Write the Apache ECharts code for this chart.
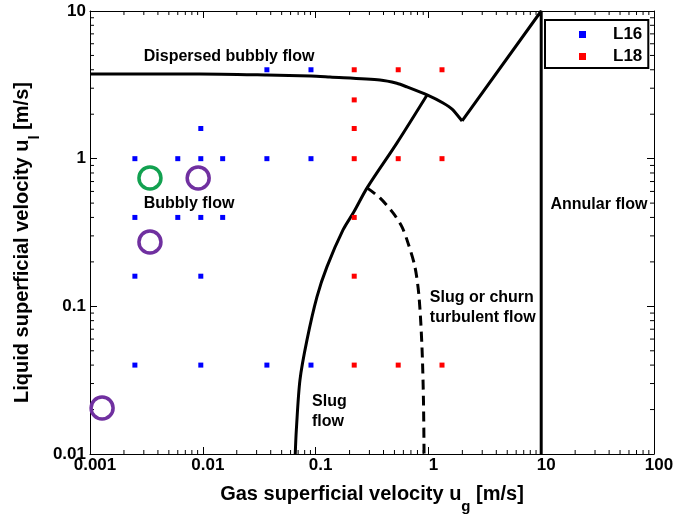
<!DOCTYPE html>
<html>
<head>
<meta charset="utf-8">
<script src="https://cdn.jsdelivr.net/npm/echarts@6/dist/echarts.min.js"></script>
<style>
  html, body { margin: 0; padding: 0; background: #fff; }
  #chart { width: 677px; height: 515px; }
</style>
</head>
<body>
<div id="chart"></div>
<script>
  // tick labels
  const xTickLabels = ['0.001', '0.01', '0.1', '1', '10', '100']
  const yTickLabels = ['0.01', '0.1', '1', '10']

  // measured points [ug, ul]
  const l16 = [
    [0.0025, 1], [0.006, 1], [0.0096, 1], [0.015, 1], [0.037, 1], [0.091, 1],
    [0.037, 4], [0.091, 4], [0.0096, 1.6],
    [0.0025, 0.4], [0.006, 0.4], [0.0096, 0.4], [0.015, 0.4],
    [0.0025, 0.16], [0.0096, 0.16],
    [0.0025, 0.04], [0.0096, 0.04], [0.037, 0.04], [0.091, 0.04]
  ]
  const l18 = [
    [0.22, 4], [0.54, 4], [1.32, 4], [0.22, 2.5], [0.22, 1.6],
    [0.22, 1], [0.54, 1], [1.32, 1], [0.22, 0.4], [0.22, 0.16],
    [0.22, 0.04], [0.54, 0.04], [1.32, 0.04]
  ]
  const greenCircles = [[0.0034, 0.74]]
  const purpleCircles = [[0.0091, 0.74], [0.0034, 0.273], [0.00128, 0.0205]]

  // regime boundaries
  const dispersedBoundary = [
    [0.001, 3.75], [0.0094, 3.75], [0.037, 3.69], [0.091, 3.63], [0.134, 3.57],
    [0.372, 3.41], [0.525, 3.24], [0.646, 3.06], [0.973, 2.7], [1.35, 2.38],
    [1.65, 2.14], [1.99, 1.8]
  ]
  const annularBoundary = [[1.99, 1.8], [10, 10], [10, 0.01]]
  const slugBoundary = [
    [0.066, 0.01], [0.0675, 0.0146], [0.0727, 0.0318], [0.0839, 0.0593],
    [0.1028, 0.116], [0.126, 0.185], [0.175, 0.329], [0.22, 0.44],
    [0.286, 0.634], [0.527, 1.28], [0.973, 2.7]
  ]
  const churnBoundary = [
    [0.286, 0.634], [0.372, 0.542], [0.486, 0.429], [0.583, 0.345], [0.659, 0.269],
    [0.76, 0.185], [0.826, 0.116], [0.877, 0.053], [0.904, 0.0232], [0.915, 0.01]
  ]

  // regime names and where they sit (data coords)
  const regimeNames = ['Dispersed bubbly flow', 'Bubbly flow', 'Annular flow', 'Slug or churn\nturbulent flow', 'Slug\nflow']
  const regimeAnchors = [[0.0171, 4.88], [0.00755, 0.493], [32.5, 0.486], [1.03, 0.0975], [0.093, 0.0193]]
  const regimeAlign = ['center', 'center', 'center', 'left', 'left']

  const xMin = 0.001, xMax = 100, yMin = 0.01, yMax = 10
  const font = 'Liberation Sans, Arial, sans-serif'

  const xMinor = []
  for (let e = -3; e <= 1; e++) for (let m = 2; m <= 9; m++) xMinor.push([m * Math.pow(10, e), 1])
  const yMinor = []
  for (let e = -2; e <= 0; e++) for (let m = 2; m <= 9; m++) yMinor.push([1, m * Math.pow(10, e)])

  const minorLen = 4

  function tickLine(x1, y1, x2, y2) {
    return { type: 'line', shape: { x1, y1, x2, y2 }, style: { stroke: '#000', lineWidth: 1 } }
  }

  const chart = echarts.init(document.getElementById('chart'))

  const axisCommon = {
    type: 'log',
    logBase: 10,
    axisLine: { show: true, onZero: false, lineStyle: { color: '#000', width: 1 } },
    axisTick: { show: true, inside: true, length: 7, lineStyle: { color: '#000', width: 1 } },
    splitLine: { show: false },
    minorTick: { show: false }
  }

  const titleRich = {
    t: { fontSize: 20, fontWeight: 'bold', color: '#000', fontFamily: font, verticalAlign: 'top', lineHeight: 22 },
    s: { fontSize: 15, fontWeight: 'bold', color: '#000', fontFamily: font, verticalAlign: 'bottom', padding: [15, 0, 0, 0] }
  }

  const curveStyle = { color: '#000', width: 3 }

  chart.setOption({
    animation: false,
    textStyle: { fontFamily: font },
    grid: { left: 90, right: 23, top: 11, bottom: 61, containLabel: false, outerBoundsMode: 'none' },
    legend: {
      data: ['L16', 'L18'],
      orient: 'vertical',
      left: 545,
      top: 20,
      padding: [6, 6, 3, 34],
      itemGap: 5,
      itemWidth: 7,
      itemHeight: 7,
      icon: 'rect',
      borderColor: '#000',
      borderWidth: 2,
      backgroundColor: '#fff',
      textStyle: { fontSize: 17, fontWeight: 'bold', color: '#000', padding: [0, 0, 0, 22], fontFamily: font }
    },
    xAxis: [
      Object.assign({}, axisCommon, {
        position: 'bottom',
        min: xMin,
        max: xMax,
        name: '{t|Gas superficial velocity u}{s|g}{t| [m/s]}',
        nameLocation: 'middle',
        nameGap: 30,
        nameTextStyle: { rich: titleRich },
        axisLabel: {
          margin: 3,
          fontSize: 17,
          fontWeight: 'bold',
          color: '#000',
          padding: [0, 0, 0, 10],
          formatter: (v, i) => xTickLabels[i]
        }
      }),
      Object.assign({}, axisCommon, {
        position: 'top',
        min: xMin,
        max: xMax,
        axisLabel: { show: false }
      })
    ],
    yAxis: [
      Object.assign({}, axisCommon, {
        position: 'left',
        min: yMin,
        max: yMax,
        name: '{t|Liquid superficial velocity u}{s|l}{t| [m/s]}',
        nameLocation: 'middle',
        nameGap: 44,
        nameTextStyle: { rich: titleRich, padding: [0, 20, 0, 0] },
        axisLabel: {
          margin: 4,
          fontSize: 17,
          fontWeight: 'bold',
          color: '#000',
          formatter: (v, i) => yTickLabels[i]
        }
      }),
      Object.assign({}, axisCommon, {
        position: 'right',
        min: yMin,
        max: yMax,
        axisLabel: { show: false }
      })
    ],
    series: [
      {
        type: 'custom',
        silent: true,
        data: xMinor,
        renderItem(params, api) {
          const v = api.value(0)
          const b = api.coord([v, yMin])
          const t = api.coord([v, yMax])
          return {
            type: 'group',
            children: [
              tickLine(b[0], b[1], b[0], b[1] - minorLen),
              tickLine(t[0], t[1], t[0], t[1] + minorLen)
            ]
          }
        }
      },
      {
        type: 'custom',
        silent: true,
        data: yMinor,
        renderItem(params, api) {
          const v = api.value(1)
          const l = api.coord([xMin, v])
          const r = api.coord([xMax, v])
          return {
            type: 'group',
            children: [
              tickLine(l[0], l[1], l[0] + minorLen, l[1]),
              tickLine(r[0], r[1], r[0] - minorLen, r[1])
            ]
          }
        }
      },
      {
        type: 'line',
        data: dispersedBoundary,
        symbol: 'none',
        smooth: 0.25,
        lineStyle: curveStyle,
        z: 3
      },
      {
        type: 'line',
        data: annularBoundary,
        symbol: 'none',
        lineStyle: curveStyle,
        z: 3
      },
      {
        type: 'line',
        data: slugBoundary,
        symbol: 'none',
        smooth: 0.3,
        lineStyle: curveStyle,
        z: 3
      },
      {
        type: 'line',
        data: churnBoundary,
        symbol: 'none',
        smooth: 0.3,
        lineStyle: { color: '#000', width: 3, type: [10, 6] },
        z: 3
      },
      {
        name: 'L16',
        type: 'scatter',
        data: l16,
        symbol: 'rect',
        symbolSize: 5,
        itemStyle: { color: '#0000ff', opacity: 1 },
        z: 4
      },
      {
        name: 'L18',
        type: 'scatter',
        data: l18,
        symbol: 'rect',
        symbolSize: 5,
        itemStyle: { color: '#ff0000', opacity: 1 },
        z: 4
      },
      {
        type: 'scatter',
        data: greenCircles,
        symbol: 'circle',
        symbolSize: 22,
        itemStyle: { color: 'rgba(0,0,0,0)', borderColor: '#12a150', borderWidth: 3.5, opacity: 1 },
        z: 5
      },
      {
        type: 'scatter',
        data: purpleCircles,
        symbol: 'circle',
        symbolSize: 22,
        itemStyle: { color: 'rgba(0,0,0,0)', borderColor: '#7030a0', borderWidth: 3.5, opacity: 1 },
        z: 5
      },
      {
        type: 'scatter',
        silent: true,
        symbolSize: 0,
        itemStyle: { opacity: 1 },
        data: regimeNames.map((n, i) => ({
          name: n,
          value: regimeAnchors[i],
          label: { align: regimeAlign[i] }
        })),
        label: {
          show: true,
          position: 'inside',
          formatter: p => p.name,
          fontSize: 16,
          fontWeight: 'bold',
          color: '#000',
          opacity: 1,
          textBorderWidth: 0,
          textBorderColor: 'transparent',
          lineHeight: 20,
          fontFamily: font
        },
        z: 6
      }
    ]
  })
</script>
</body>
</html>
